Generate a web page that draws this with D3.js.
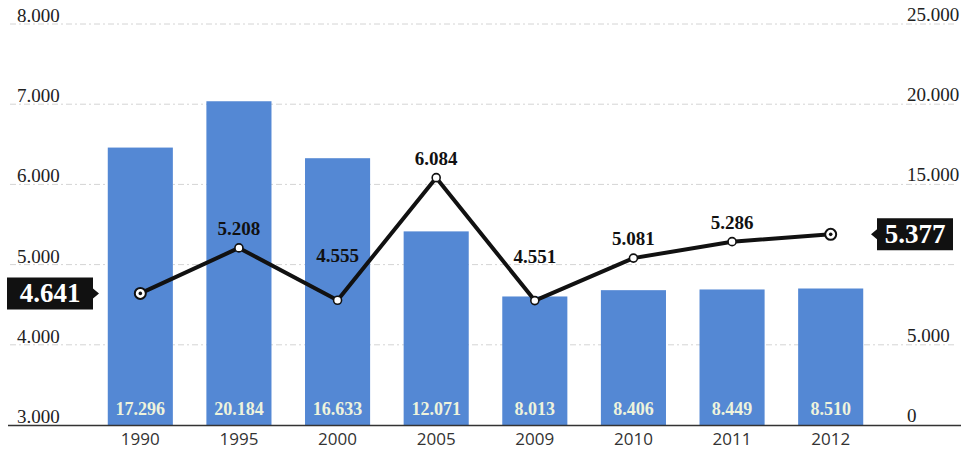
<!DOCTYPE html>
<html>
<head>
<meta charset="utf-8">
<script src="https://cdn.jsdelivr.net/npm/d3@7"></script>
<style>
  html, body { margin: 0; padding: 0; background: #fff; }
  svg { display: block; }
</style>
</head>
<body>
<div id="chart"></div>
<script>
// data
const years = ["1990", "1995", "2000", "2005", "2009", "2010", "2011", "2012"];
const barValues = [17296, 20184, 16633, 12071, 8013, 8406, 8449, 8510];
const lineValues = [4641, 5208, 4555, 6084, 4551, 5081, 5286, 5377];
const leftTicks = [3000, 4000, 5000, 6000, 7000, 8000];
// 10.000 sits behind the last-value callout in the original, so it is not printed
const rightTicks = [0, 5000, 15000, 20000, 25000];

const width = 961, height = 451;
const serif = "'Liberation Serif', 'Times New Roman', serif";

const loc = d3.formatLocale({ decimal: ",", thousands: ".", grouping: [3], currency: ["", ""] });
const fmt = loc.format(",d");

const svg = d3.select("#chart").append("svg")
    .attr("width", width)
    .attr("height", height);

const x = d3.scaleBand()
    .domain(years)
    .range([91, 880])
    .paddingInner(0.34)
    .paddingOuter(0.17);

const yL = d3.scaleLinear().domain([3000, 8000]).range([425, 24]);
const yR = d3.scaleLinear().domain([0, 25000]).range([425, 24]);

// grid lines (left scale)
svg.append("g")
    .selectAll("line")
    .data(leftTicks.slice(1))
    .join("line")
    .attr("x1", 10).attr("x2", 956)
    .attr("y1", d => yL(d)).attr("y2", d => yL(d))
    .attr("stroke", "#d4d4d4")
    .attr("stroke-width", 1)
    .attr("stroke-dasharray", "6,3,2,3");

// left labels
svg.append("g")
    .selectAll("text")
    .data(leftTicks)
    .join("text")
    .attr("x", 17)
    .attr("y", d => yL(d) - 2)
    .style("font-family", serif)
    .style("font-size", "19px")
    .attr("fill", "#222")
    .text(d => fmt(d));

// right labels
svg.append("g")
    .selectAll("text")
    .data(rightTicks)
    .join("text")
    .attr("x", 907)
    .attr("y", d => yR(d) - 3)
    .style("font-family", serif)
    .style("font-size", "19px")
    .attr("fill", "#222")
    .text(d => fmt(d));

// bars
const barColor = "#5488d4";
svg.append("g")
    .selectAll("rect")
    .data(barValues)
    .join("rect")
    .attr("x", (d, i) => x(years[i]))
    .attr("width", x.bandwidth())
    .attr("y", d => yR(d))
    .attr("height", d => yR(0) - yR(d))
    .attr("fill", barColor);

// bar value labels
svg.append("g")
    .selectAll("text")
    .data(barValues)
    .join("text")
    .attr("x", (d, i) => x(years[i]) + x.bandwidth() / 2)
    .attr("y", 415)
    .attr("text-anchor", "middle")
    .style("font-family", serif)
    .style("font-weight", "bold")
    .style("font-size", "18px")
    .attr("fill", "#eef3dc")
    .text(d => fmt(d));

// axis line
svg.append("line")
    .attr("x1", 8).attr("x2", 961)
    .attr("y1", 425.5).attr("y2", 425.5)
    .attr("stroke", "#333")
    .attr("stroke-width", 1.6);

// year labels
svg.append("g")
    .selectAll("text")
    .data(years)
    .join("text")
    .attr("x", d => x(d) + x.bandwidth() / 2)
    .attr("y", 445)
    .attr("text-anchor", "middle")
    .style("font-family", "'Open Sans', sans-serif")
    .style("font-size", "17px")
    .attr("fill", "#333")
    .text(d => d);

// line
const cx = i => x(years[i]) + x.bandwidth() / 2;
const line = d3.line()
    .x((d, i) => cx(i))
    .y(d => yL(d));

svg.append("path")
    .datum(lineValues)
    .attr("d", line)
    .attr("fill", "none")
    .attr("stroke", "#111")
    .attr("stroke-width", 4)
    .attr("stroke-linejoin", "round");

const last = lineValues.length - 1;

// middle points
svg.append("g")
    .selectAll("circle")
    .data(lineValues.slice(1, last))
    .join("circle")
    .attr("cx", (d, i) => cx(i + 1))
    .attr("cy", d => yL(d))
    .attr("r", 4)
    .attr("fill", "#fff")
    .attr("stroke", "#111")
    .attr("stroke-width", 1.6);

// end points
[0, last].forEach(i => {
    svg.append("circle")
        .attr("cx", cx(i)).attr("cy", yL(lineValues[i]))
        .attr("r", 5.5)
        .attr("fill", "#fff")
        .attr("stroke", "#111")
        .attr("stroke-width", 2);
    svg.append("circle")
        .attr("cx", cx(i)).attr("cy", yL(lineValues[i]))
        .attr("r", 1.8)
        .attr("fill", "#111");
});

// value labels above the middle points (dips get lifted clear of the line)
svg.append("g")
    .selectAll("text")
    .data(lineValues.slice(1, last))
    .join("text")
    .attr("x", (d, i) => cx(i + 1))
    .attr("y", (d, i) => {
        const k = i + 1;
        const dip = d < lineValues[k - 1] && d < lineValues[k + 1];
        return yL(d) - (dip ? 38 : 13);
    })
    .attr("text-anchor", "middle")
    .style("font-family", serif)
    .style("font-weight", "bold")
    .style("font-size", "19px")
    .attr("fill", "#111")
    .text(d => fmt(d));

// callouts for first and last values
function callout(i, side) {
    const py = yL(lineValues[i]);
    const g = svg.append("g");
    let bx, bw = side === "left" ? 86 : 76, bh = 32, tip;
    if (side === "left") {
        bx = 7; tip = bx + bw + 6;
        g.append("path")
            .attr("d", `M${bx},${py - bh / 2}H${bx + bw}V${py - 5}L${tip},${py}L${bx + bw},${py + 5}V${py + bh / 2}H${bx}Z`)
            .attr("fill", "#111");
    } else {
        bx = 877; tip = bx - 6;
        g.append("path")
            .attr("d", `M${bx},${py - bh / 2}H${bx + bw}V${py + bh / 2}H${bx}V${py + 5}L${tip},${py}L${bx},${py - 5}Z`)
            .attr("fill", "#111");
    }
    g.append("text")
        .attr("x", bx + bw / 2)
        .attr("y", py + 9)
        .attr("text-anchor", "middle")
        .style("font-family", serif)
        .style("font-weight", "bold")
        .style("font-size", "27px")
        .attr("fill", "#fff")
        .text(fmt(lineValues[i]));
}
callout(0, "left");
callout(last, "right");
</script>
</body>
</html>
